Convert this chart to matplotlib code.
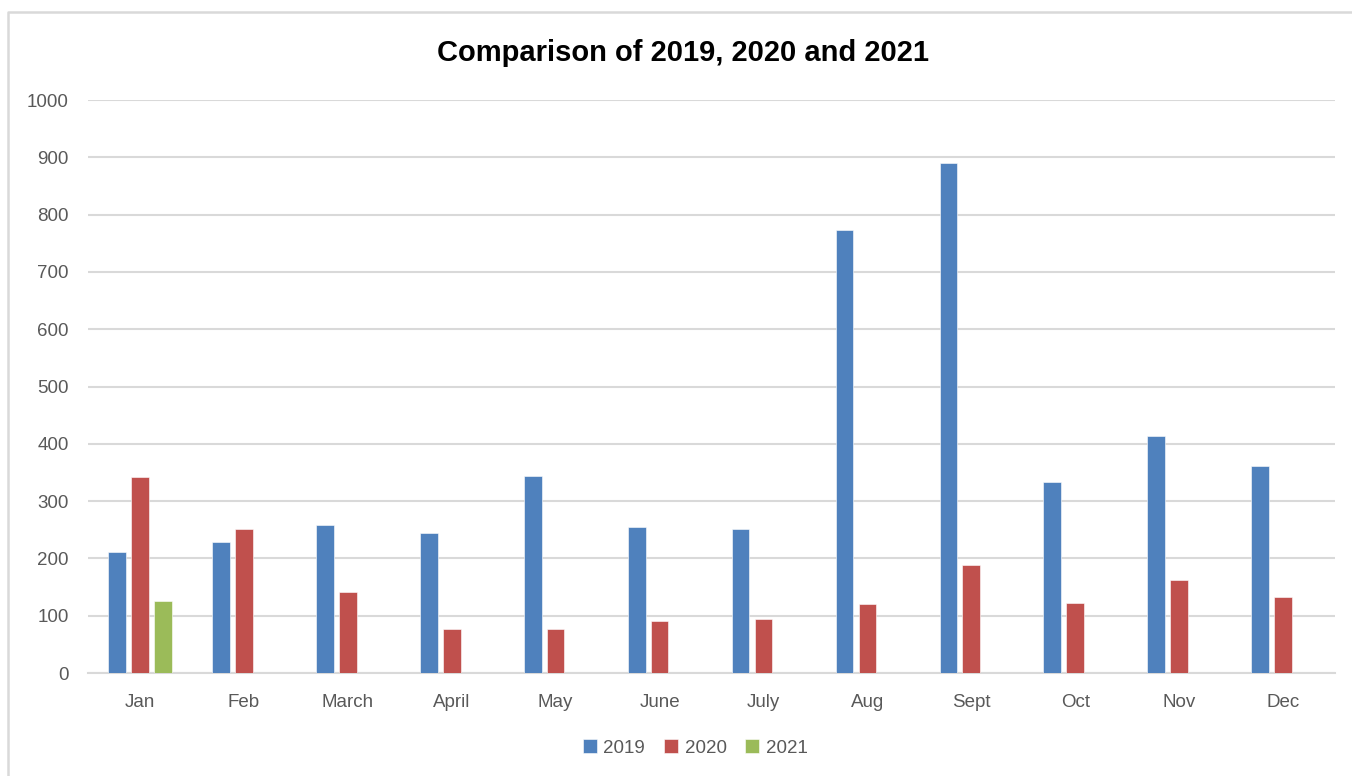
import numpy as np
import matplotlib.pyplot as plt
from matplotlib.lines import Line2D

# Dados
meses = ['Jan', 'Feb', 'March', 'April', 'May', 'June', 'July',
         'Aug', 'Sept', 'Oct', 'Nov', 'Dec']
valores_2019 = [212, 228, 258, 244, 344, 254, 252, 773, 890, 334, 413, 362]
valores_2020 = [342, 252, 142, 77, 76, 90, 95, 120, 188, 122, 162, 132]
valores_2021 = [126, 0, 0, 0, 0, 0, 0, 0, 0, 0, 0, 0]
anos = ['2019', '2020', '2021']
cores = ['#4F81BD', '#C0504D', '#9BBB59']

plt.rcParams['font.family'] = ['Liberation Sans', 'DejaVu Sans']

fig = plt.figure(figsize=(13.52, 7.76), dpi=100)
ax = fig.add_axes([0.0651, 0.1327, 0.9223, 0.7384])

x = np.arange(len(meses))
passo = 0.22
largura = 0.17
series = [valores_2019, valores_2020, valores_2021]
for i, (serie, ano, cor) in enumerate(zip(series, anos, cores)):
    ax.bar(x + (i - 1) * passo, serie, width=largura, color=cor, label=ano,
           edgecolor='white', linewidth=0.4, zorder=3)

# Eixos e grade
ax.set_xlim(-0.5, len(meses) - 0.5)
ax.set_ylim(0, 1000)
ax.set_yticks(range(0, 1001, 100))
ax.set_xticks(x)
ax.set_xticklabels(meses)
ax.grid(axis='y', color='#d9d9d9', linewidth=1.5, zorder=0)
for lado in ['top', 'right', 'left']:
    ax.spines[lado].set_visible(False)
ax.spines['bottom'].set_color('#d9d9d9')
ax.spines['bottom'].set_linewidth(1.5)
ax.tick_params(axis='both', length=0, labelsize=13.5, colors='#595959')
ax.tick_params(axis='y', pad=14)
ax.tick_params(axis='x', pad=15)

# Título
fig.text(0.505, 0.932, 'Comparison of 2019, 2020 and 2021', ha='center',
         va='center', fontsize=21, fontweight='bold', color='black')

# Legenda
ax.legend(loc='center', bbox_to_anchor=(0.487, -0.131), ncol=3, frameon=False,
          fontsize=13.5, handlelength=0.75, handleheight=0.75, handletextpad=0.35,
          columnspacing=1.0, labelcolor='#595959')

# Borda externa do gráfico (só topo e esquerda aparecem)
fig.lines.append(Line2D([8 / 1352, 8 / 1352, 1.0], [0.0, 1 - 12 / 776, 1 - 12 / 776],
                        transform=fig.transFigure, color='#d9d9d9', linewidth=1.8))

plt.savefig('out.png', dpi=100)
plt.close()
